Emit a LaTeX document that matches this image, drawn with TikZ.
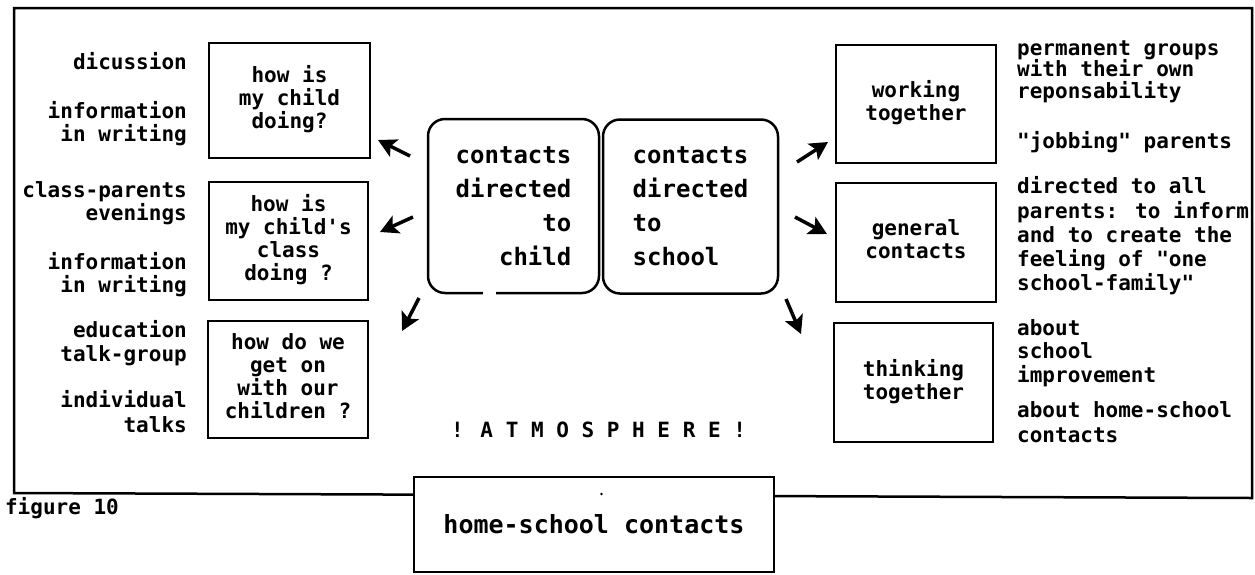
\documentclass[tikz,border=0pt]{standalone}
\usepackage{fontspec}
\setmainfont{DejaVu Sans Mono}
\usetikzlibrary{arrows.meta}

% type faces of the plotter-like lettering
\newcommand\noteface{\fontsize{21}{23}\selectfont\bfseries}
\newcommand\bigface{\fontsize{24}{34}\selectfont\bfseries}
\newcommand\titleface{\fontsize{25}{30}\selectfont\bfseries}

\tikzset{
  x=1pt, y=-1pt,
  outline/.style={line width=2.5pt},
  note/.style={inner sep=0pt, font=\noteface,
    execute at begin node=\strut, execute at end node=\strut},
  lnote/.style={note, align=right, anchor=east},
  rnote/.style={note, align=left, anchor=west},
  lead/.style={font=\fontsize{21}{#1}\selectfont\bfseries},
  qbox/.style={draw, outline, align=center, inner sep=0pt, font=\noteface,
    minimum width=160pt, minimum height=117pt,
    execute at begin node=\strut, execute at end node=\strut},
  cbox/.style={draw, outline, rounded corners=17pt, inner sep=0pt,
    minimum height=174pt, font=\bigface},
  pointer/.style={-{Stealth[length=18pt,width=19pt,inset=4pt]}, line width=3.5pt},
}

\begin{document}
\begin{tikzpicture}
\useasboundingbox (0,0) rectangle (1255,574);

% outer frame, its bottom edge sagging slightly to the right
\draw[outline, line join=miter] (14,8) -- (1252,8) -- (1252,498) -- (14,493) -- cycle;

% centre: the two kinds of contact
\node[cbox, align=right, minimum width=171pt] (child) at (513.5,206) {contacts\\directed\\to\\child};
\node[cbox, align=left, minimum width=175pt] (school) at (690.5,206.5) {contacts\\directed\\to\\school};
\draw[white, line width=4pt] (483,293) -- (496,293);

% questions about the child
\node[qbox, minimum width=161pt, minimum height=115pt] (q1) at (289.5,100.5) {how is\\my child\\doing?};
\node[qbox, minimum width=159pt, minimum height=118pt] (q2) at (288.5,241) {how is\\my child\textquotesingle s\\class\\doing ?};
\node[qbox, minimum width=160pt, minimum height=117pt] (q3) at (288,379.5) {how do we\\get on\\with our\\children ?};

% forms of contact with the school
\node[qbox, minimum width=160pt, minimum height=118pt] (s1) at (916,104) {working\\together};
\node[qbox, minimum width=160pt, minimum height=119pt] (s2) at (916,242.5) {general\\contacts};
\node[qbox, minimum width=159pt, minimum height=119pt] (s3) at (913.5,382.5) {thinking\\together};

% means, left column
\node[lnote] (m1) at (187,64) {dicussion};
\node[lnote] (m2) at (187,124.5) {information\\in writing};
\node[lnote] (m3) at (187,204.5) {class-parents\\evenings};
\node[lnote] (m4) at (187,275.5) {information\\in writing};
\node[lnote, lead=24] (m5) at (187,345) {education\\talk-group};
\node[lnote, lead=25] (m6) at (187,415.5) {individual\\talks};

% explanations, right column
\node[rnote, lead=21.5] (e1) at (1017,72.5) {permanent groups\\with their own\\reponsability};
\node[rnote] (e2) at (1017,143) {\textquotedbl jobbing\textquotedbl{} parents};
\node[rnote, lead=24.25] (e3) at (1017,237.5) {directed to all\\parents: to inform\\and to create the\\feeling of \textquotedbl one\\school-family\textquotedbl};
\node[rnote, lead=23.5] (e4) at (1017,354.5) {about\\school\\improvement};
\node[rnote, lead=25] (e5) at (1017,425.5) {about home-school\\contacts};

% pointers from the centre outwards
\coordinate (c1) at (410,156);  \coordinate (t1) at (378,140);
\coordinate (c2) at (413,217);  \coordinate (t2) at (380,232);
\coordinate (c3) at (419,298);  \coordinate (t3) at (402,331);
\coordinate (c4) at (797,162);  \coordinate (t4) at (828,142);
\coordinate (c5) at (795,217);  \coordinate (t5) at (827,234);
\coordinate (c6) at (786,299);  \coordinate (t6) at (801,334);
\foreach \i in {1,...,6} \draw[pointer] (c\i) -- (t\i);

\node[note] (atm) at (598.5,433) {! A T M O S P H E R E !};

% title box over the bottom of the frame
\node[draw, outline, fill=white, minimum width=360pt, minimum height=95pt,
      inner sep=0pt, font=\titleface] (title) at (594,524.5) {home-school contacts};
\fill (601.5,494) circle (1.3pt);

\node[note] (fig) at (62,509) {figure 10};
\end{tikzpicture}
\end{document}
